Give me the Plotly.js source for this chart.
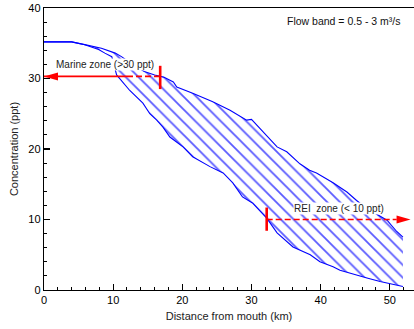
<!DOCTYPE html>
<html>
<head>
<meta charset="utf-8">
<script src="https://cdn.plot.ly/plotly-3.0.1.min.js"></script>
<style>html,body{margin:0;padding:0;background:#fff;}#chart{width:414px;height:329px;}</style>
</head>
<body>
<div id="chart"></div>
<script>
// Upper boundary (low flow, 0.5 m3/s)
const upperX = [0, 4.0, 5.9, 8.3, 10.3, 11.2, 12.5, 14.5, 16.0, 17.3, 18.7, 19.2, 21.5, 24.4, 26.9, 29.3, 30.0, 31.2, 33.7, 35.1, 37.0, 38.4, 39.4, 41.8, 43.8, 45.2, 45.7, 47.5, 49.0, 49.6, 51.0, 51.9];
const upperY = [35.2, 35.2, 34.8, 34.3, 33.6, 33.1, 32.2, 31.0, 30.5, 30.2, 29.5, 28.8, 27.9, 26.7, 25.5, 24.1, 24.2, 22.9, 20.3, 19.6, 17.9, 17.0, 16.6, 15.2, 13.9, 12.7, 12.3, 11.1, 10.2, 9.9, 8.3, 7.5];
// Lower boundary (high flow, 3 m3/s)
const lowerX = [0, 4.0, 5.9, 7.9, 8.8, 9.8, 10.1, 10.5, 12.4, 14.3, 15.3, 16.3, 17.2, 18.2, 20.1, 21.5, 24.0, 25.9, 27.3, 28.7, 30.2, 32.2, 33.7, 36.0, 38.5, 39.9, 41.8, 42.8, 46.7, 48.6, 51.9];
const lowerY = [35.2, 35.2, 34.8, 34.1, 33.6, 33.1, 32.0, 30.5, 28.3, 26.5, 25.0, 24.1, 23.1, 21.7, 20.3, 18.9, 17.5, 16.6, 15.2, 13.2, 12.3, 10.2, 8.1, 6.1, 5.0, 4.0, 3.3, 2.8, 1.7, 1.2, 0.5];

// Zone markers
const marineY = 30.3, marineTickX = 16.8, marineSolidEnd = 12.0, marineTickSpan = [28.5, 31.8];
const reiY = 10.0, reiTickX = 32.2, reiHeadX = 53.0, reiDashEnd = 51.0, reiTickSpan = [8.4, 11.7];

const xTickVals = [0, 10, 20, 30, 40, 50];
const yTickVals = [0, 10, 20, 30, 40];

const fam = 'Liberation Sans, Arial, sans-serif';
const blue = '#0000ff';
const red = '#ff0000';

const polyX = upperX.concat(lowerX.slice().reverse());
const polyY = upperY.concat(lowerY.slice().reverse());

const traces = [
  {x: polyX, y: polyY, mode: 'lines', fill: 'toself', line: {width: 0, color: 'rgba(0,0,0,0)'},
   fillcolor: 'rgba(0,0,0,0)',
   fillpattern: {shape: '\\', fgcolor: '#5a5aff', bgcolor: 'rgba(0,0,0,0)', size: 9, solidity: 0.2},
   hoverinfo: 'skip', showlegend: false},
  {x: upperX, y: upperY, mode: 'lines', line: {color: blue, width: 1.1}, showlegend: false},
  {x: lowerX, y: lowerY, mode: 'lines', line: {color: blue, width: 1.1}, showlegend: false},
  // marine arrow line
  {x: [0, marineSolidEnd], y: [marineY, marineY], mode: 'lines', line: {color: red, width: 1.6}, showlegend: false},
  {x: [marineSolidEnd, marineTickX], y: [marineY, marineY], mode: 'lines', line: {color: red, width: 1.6, dash: '6px,3px'}, showlegend: false},
  {x: [marineTickX, marineTickX], y: marineTickSpan, mode: 'lines', line: {color: red, width: 2.6}, showlegend: false},
  // REI arrow line
  {x: [reiTickX, reiDashEnd], y: [reiY, reiY], mode: 'lines', line: {color: red, width: 1.6, dash: '6px,3px'}, showlegend: false},
  {x: [reiTickX, reiTickX], y: reiTickSpan, mode: 'lines', line: {color: red, width: 2.6}, showlegend: false}
];

const layout = {
  width: 414, height: 329,
  margin: {l: 44, r: 0, t: 8, b: 39},
  paper_bgcolor: '#fff', plot_bgcolor: '#fff',
  showlegend: false,
  font: {family: fam, color: '#000'},
  xaxis: {
    range: [0, 53.5], showgrid: false, zeroline: false,
    showline: true, linecolor: '#000', linewidth: 1.2, mirror: true,
    tickmode: 'array', tickvals: xTickVals, ticks: 'inside', ticklen: 6, tickwidth: 1.2, tickcolor: '#000',
    minor: {dtick: 2, ticks: 'inside', ticklen: 3, tickcolor: '#000', tickwidth: 1},
    tickfont: {size: 11, family: fam, color: '#000'},
    title: {text: 'Distance from mouth (km)', font: {size: 11, family: fam, color: '#222'}, standoff: 6}
  },
  yaxis: {
    range: [0, 40], showgrid: false, zeroline: false,
    showline: true, linecolor: '#000', linewidth: 1.2,
    tickmode: 'array', tickvals: yTickVals, ticks: 'inside', ticklen: 6, tickwidth: 1.2, tickcolor: '#000',
    minor: {dtick: 2, ticks: 'inside', ticklen: 3, tickcolor: '#000', tickwidth: 1},
    tickfont: {size: 11, family: fam, color: '#000'},
    title: {text: 'Concentration (ppt)', font: {size: 11, family: fam, color: '#222'}, standoff: 7}
  },
  shapes: [
    {type: 'path', xref: 'x', yref: 'y', xsizemode: 'pixel', ysizemode: 'pixel',
     xanchor: 0, yanchor: marineY, path: 'M0,0L14,4L14,-4Z', fillcolor: red, line: {width: 0}},
    {type: 'path', xref: 'x', yref: 'y', xsizemode: 'pixel', ysizemode: 'pixel',
     xanchor: reiHeadX, yanchor: reiY, path: 'M0,0L-14,4L-14,-4Z', fillcolor: red, line: {width: 0}}
  ],
  annotations: [
    {xref: 'x', yref: 'y', x: 51.9, y: 38.2, xanchor: 'right', yanchor: 'middle', showarrow: false,
     text: 'Flow band = 0.5 - 3 m³/s', font: {size: 10.5, family: fam, color: '#111'}},
    {xref: 'x', yref: 'y', x: 8.75, y: 32.0, xanchor: 'center', yanchor: 'middle', showarrow: false,
     text: 'Marine zone (&gt;30 ppt)', bgcolor: '#fff', borderpad: 0, font: {size: 10, family: fam, color: '#222'}},
    {xref: 'x', yref: 'y', x: 42.6, y: 11.5, xanchor: 'center', yanchor: 'middle', showarrow: false,
     text: 'REI&nbsp; zone (&lt; 10 ppt)', bgcolor: '#fff', borderpad: 0, font: {size: 10, family: fam, color: '#222'}}
  ]
};

Plotly.newPlot('chart', traces, layout, {staticPlot: true, displayModeBar: false});
</script>
</body>
</html>
